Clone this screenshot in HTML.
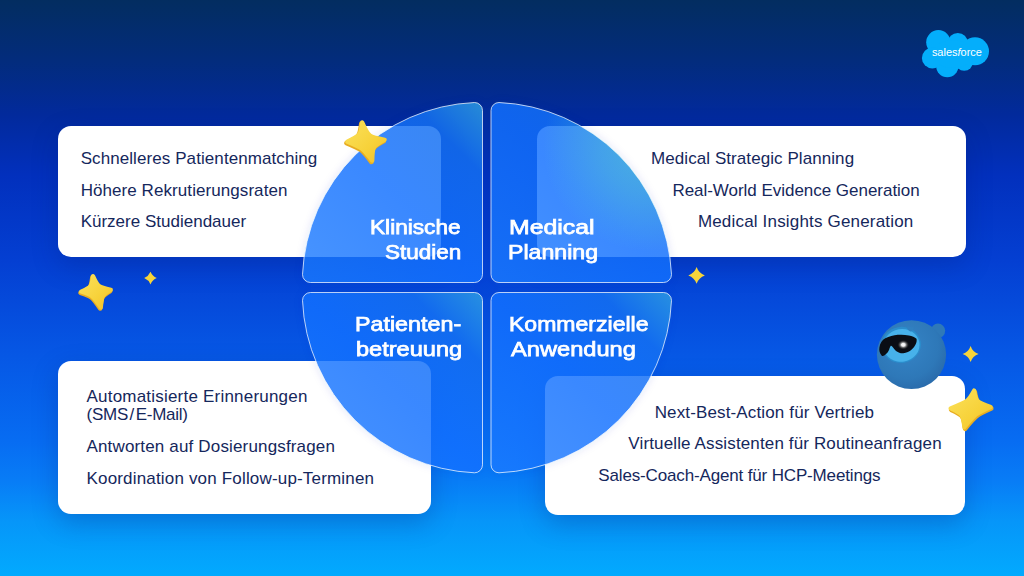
<!DOCTYPE html>
<html><head><meta charset="utf-8">
<style>
html,body{margin:0;padding:0;}
body{width:1024px;height:576px;overflow:hidden;position:relative;font-family:"Liberation Sans",sans-serif;
background:linear-gradient(180deg,#032d60 0px,#032c7c 60px,#022a9c 115px,#0230bd 175px,#043fd2 260px,#0656e4 350px,#076cf2 440px,#087cf6 480px,#0696f9 522px,#02aafe 576px);}
.card{position:absolute;background:#fff;border-radius:13px;box-shadow:0 9px 26px rgba(3,30,120,0.26);}
.t{position:absolute;white-space:nowrap;color:#15275c;font-size:17px;line-height:20px;height:20px;}
.h{position:absolute;white-space:nowrap;color:#fff;font-size:20.3px;line-height:26px;height:26px;-webkit-text-stroke:0.75px #fff;transform-origin:0 0;}
svg{position:absolute;left:0;top:0;}
</style></head><body>
<div class="card" style="left:58px;top:126px;width:383px;height:131px;"></div>
<div class="card" style="left:537px;top:126px;width:429px;height:131px;"></div>
<div class="card" style="left:58px;top:361px;width:373px;height:153px;"></div>
<div class="card" style="left:545px;top:375.5px;width:420px;height:139px;"></div>

<div class="t" style="left:80.65px;top:148.75px;letter-spacing:0.083px;">Schnelleres Patientenmatching</div>
<div class="t" style="left:80.65px;top:180.75px;letter-spacing:0.072px;">Höhere Rekrutierungsraten</div>
<div class="t" style="left:80.65px;top:211.75px;letter-spacing:0.006px;">Kürzere Studiendauer</div>
<div class="t" style="left:651.00px;top:148.75px;letter-spacing:0.073px;">Medical Strategic Planning</div>
<div class="t" style="left:672.40px;top:180.75px;letter-spacing:-0.031px;">Real-World Evidence Generation</div>
<div class="t" style="left:697.90px;top:211.75px;letter-spacing:0.179px;">Medical Insights Generation</div>
<div class="t" style="left:86.50px;top:386.75px;letter-spacing:0.209px;">Automatisierte Erinnerungen</div>
<div class="t" style="left:86.50px;top:404.75px;letter-spacing:-0.251px;">(SMS<span style="margin:0 1.6px">/</span>E-Mail)</div>
<div class="t" style="left:86.50px;top:436.75px;letter-spacing:0.158px;">Antworten auf Dosierungsfragen</div>
<div class="t" style="left:86.50px;top:468.75px;letter-spacing:0.174px;">Koordination von Follow-up-Terminen</div>
<div class="t" style="left:654.70px;top:402.75px;letter-spacing:0.139px;">Next-Best-Action für Vertrieb</div>
<div class="t" style="left:628.30px;top:433.75px;letter-spacing:0.138px;">Virtuelle Assistenten für Routineanfragen</div>
<div class="t" style="left:598.30px;top:465.75px;letter-spacing:-0.153px;">Sales-Coach-Agent für HCP-Meetings</div>
<svg width="1024" height="576" viewBox="0 0 1024 576"><defs>
<linearGradient id="qg" x1="0" y1="1" x2="1" y2="0"><stop offset="0" stop-color="#1a7aff" stop-opacity="0.80"/><stop offset="0.5" stop-color="#1270ff" stop-opacity="0.83"/><stop offset="0.8" stop-color="#1470f2" stop-opacity="0.84"/><stop offset="1" stop-color="#2e9ee2" stop-opacity="0.84"/></linearGradient>
<radialGradient id="cy" gradientUnits="userSpaceOnUse" cx="648" cy="146" r="105"><stop offset="0" stop-color="#5adcc8" stop-opacity="0.5"/><stop offset="0.45" stop-color="#5adcc8" stop-opacity="0.30"/><stop offset="1" stop-color="#5adcc8" stop-opacity="0"/></radialGradient>
<filter id="sh" x="-10%" y="-10%" width="120%" height="120%"><feGaussianBlur stdDeviation="4"/></filter>
<mask id="outq" maskUnits="userSpaceOnUse" x="0" y="0" width="1024" height="576"><rect width="1024" height="576" fill="#fff"/><path d="M310.5,282.5 L474.5,282.5 A8,8 0 0 0 482.5,274.5 L482.5,110.5 A8,8 0 0 0 474.5,102.5 A180.0,180.0 0 0 0 302.5,274.5 A8,8 0 0 0 310.5,282.5Z" fill="#000"/><path d="M663.5,282.5 L499,282.5 A8,8 0 0 1 491,274.5 L491,110.5 A8,8 0 0 1 499,102.5 A180.5,180.5 0 0 1 671.5,274.5 A8,8 0 0 1 663.5,282.5Z" fill="#000"/><path d="M310.5,292.5 L474.5,292.5 A8,8 0 0 1 482.5,300.5 L482.5,464.8 A8,8 0 0 1 474.5,472.8 A180.0,180.0 0 0 1 302.5,300.5 A8,8 0 0 1 310.5,292.5Z" fill="#000"/><path d="M663.5,292.5 L499,292.5 A8,8 0 0 0 491,300.5 L491,464.8 A8,8 0 0 0 499,472.8 A180.5,180.5 0 0 0 671.5,300.5 A8,8 0 0 0 663.5,292.5Z" fill="#000"/></mask>
</defs>
<g mask="url(#outq)"><g filter="url(#sh)" fill="#0a3cc8" fill-opacity="0.13"><path d="M310.5,282.5 L474.5,282.5 A8,8 0 0 0 482.5,274.5 L482.5,110.5 A8,8 0 0 0 474.5,102.5 A180.0,180.0 0 0 0 302.5,274.5 A8,8 0 0 0 310.5,282.5Z"/><path d="M663.5,282.5 L499,282.5 A8,8 0 0 1 491,274.5 L491,110.5 A8,8 0 0 1 499,102.5 A180.5,180.5 0 0 1 671.5,274.5 A8,8 0 0 1 663.5,282.5Z"/><path d="M310.5,292.5 L474.5,292.5 A8,8 0 0 1 482.5,300.5 L482.5,464.8 A8,8 0 0 1 474.5,472.8 A180.0,180.0 0 0 1 302.5,300.5 A8,8 0 0 1 310.5,292.5Z"/><path d="M663.5,292.5 L499,292.5 A8,8 0 0 0 491,300.5 L491,464.8 A8,8 0 0 0 499,472.8 A180.5,180.5 0 0 0 671.5,300.5 A8,8 0 0 0 663.5,292.5Z"/></g></g>
<path d="M310.5,282.5 L474.5,282.5 A8,8 0 0 0 482.5,274.5 L482.5,110.5 A8,8 0 0 0 474.5,102.5 A180.0,180.0 0 0 0 302.5,274.5 A8,8 0 0 0 310.5,282.5Z" fill="url(#qg)" stroke="#fff" stroke-opacity="0.72" stroke-width="1"/>
<path d="M663.5,282.5 L499,282.5 A8,8 0 0 1 491,274.5 L491,110.5 A8,8 0 0 1 499,102.5 A180.5,180.5 0 0 1 671.5,274.5 A8,8 0 0 1 663.5,282.5Z" fill="url(#qg)" stroke="#fff" stroke-opacity="0.72" stroke-width="1"/>
<path d="M310.5,292.5 L474.5,292.5 A8,8 0 0 1 482.5,300.5 L482.5,464.8 A8,8 0 0 1 474.5,472.8 A180.0,180.0 0 0 1 302.5,300.5 A8,8 0 0 1 310.5,292.5Z" fill="url(#qg)" stroke="#fff" stroke-opacity="0.72" stroke-width="1"/>
<path d="M663.5,292.5 L499,292.5 A8,8 0 0 0 491,300.5 L491,464.8 A8,8 0 0 0 499,472.8 A180.5,180.5 0 0 0 671.5,300.5 A8,8 0 0 0 663.5,292.5Z" fill="url(#qg)" stroke="#fff" stroke-opacity="0.72" stroke-width="1"/>
<path d="M663.5,282.5 L499,282.5 A8,8 0 0 1 491,274.5 L491,110.5 A8,8 0 0 1 499,102.5 A180.5,180.5 0 0 1 671.5,274.5 A8,8 0 0 1 663.5,282.5Z" fill="url(#cy)"/>
</svg>
<div class="h" style="left:369.95px;top:214.07px;transform:scaleX(1.1163);">Klinische</div>
<div class="h" style="left:385.00px;top:239.17px;transform:scaleX(1.1098);">Studien</div>
<div class="h" style="left:509.12px;top:214.07px;transform:scaleX(1.2242);">Medical</div>
<div class="h" style="left:508.39px;top:239.17px;transform:scaleX(1.1414);">Planning</div>
<div class="h" style="left:355.15px;top:311.07px;transform:scaleX(1.1480);">Patienten-</div>
<div class="h" style="left:355.66px;top:336.07px;transform:scaleX(1.1619);">betreuung</div>
<div class="h" style="left:509.16px;top:311.07px;transform:scaleX(1.1358);">Kommerzielle</div>
<div class="h" style="left:511.20px;top:336.07px;transform:scaleX(1.1655);">Anwendung</div>
<svg width="1024" height="576" viewBox="0 0 1024 576">
<defs>
<linearGradient id="sg" x1="0" y1="0" x2="1" y2="1"><stop offset="0" stop-color="#fbe05a"/><stop offset="0.6" stop-color="#f7d23a"/><stop offset="1" stop-color="#f2c02c"/></linearGradient>
<radialGradient id="ball" cx="0.42" cy="0.38" r="0.72"><stop offset="0" stop-color="#3584c6"/><stop offset="0.65" stop-color="#2e78b8"/><stop offset="1" stop-color="#2866a6"/></radialGradient>
<radialGradient id="glint" cx="0.5" cy="0.5" r="0.5"><stop offset="0" stop-color="#fff"/><stop offset="0.3" stop-color="#f0f0f0"/><stop offset="0.6" stop-color="#777" stop-opacity="0.7"/><stop offset="1" stop-color="#111" stop-opacity="0"/></radialGradient>
</defs>
<path d="M362.0,122.6 C368.5,137.2 368.5,137.2 384.5,140.0 C372.3,146.8 372.3,146.8 372.1,161.0 C362.4,148.2 362.4,148.2 347.1,142.0 C360.4,135.5 360.4,135.5 362.0,122.6Z" transform="translate(-0.7,1.0)" fill="#e8ad22" stroke="#e8ad22" stroke-width="4.6" stroke-linejoin="round"/>
<path d="M362.0,122.6 C368.5,137.2 368.5,137.2 384.5,140.0 C372.3,146.8 372.3,146.8 372.1,161.0 C362.4,148.2 362.4,148.2 347.1,142.0 C360.4,135.5 360.4,135.5 362.0,122.6Z" transform="translate(0.21,-0.3)" fill="url(#sg)" stroke="url(#sg)" stroke-width="4.2" stroke-linejoin="round"/>
<path d="M92.9,276.4 C97.9,287.3 97.9,287.3 110.7,290.1 C101.9,295.5 101.9,295.5 100.7,307.6 C92.7,295.8 92.7,295.8 81.0,291.9 C91.6,286.9 91.6,286.9 92.9,276.4Z" transform="translate(-0.5,0.9)" fill="#e8ad22" stroke="#e8ad22" stroke-width="4.6" stroke-linejoin="round"/>
<path d="M92.9,276.4 C97.9,287.3 97.9,287.3 110.7,290.1 C101.9,295.5 101.9,295.5 100.7,307.6 C92.7,295.8 92.7,295.8 81.0,291.9 C91.6,286.9 91.6,286.9 92.9,276.4Z" transform="translate(0.15,-0.27)" fill="url(#sg)" stroke="url(#sg)" stroke-width="4.2" stroke-linejoin="round"/>
<path d="M974.3,390.9 C976.2,402.1 976.2,402.1 990.8,407.4 C975.5,414.2 975.5,414.2 964.6,427.6 C962.9,414.3 962.9,414.3 950.7,408.7 C968.3,401.9 968.3,401.9 974.3,390.9Z" transform="translate(0.5,1.1)" fill="#e8ad22" stroke="#e8ad22" stroke-width="4.6" stroke-linejoin="round"/>
<path d="M974.3,390.9 C976.2,402.1 976.2,402.1 990.8,407.4 C975.5,414.2 975.5,414.2 964.6,427.6 C962.9,414.3 962.9,414.3 950.7,408.7 C968.3,401.9 968.3,401.9 974.3,390.9Z" transform="translate(-0.15,-0.33)" fill="url(#sg)" stroke="url(#sg)" stroke-width="4.2" stroke-linejoin="round"/>
<path d="M150.5,271.8 Q152.4,276.2 156.8,278.1 Q152.4,280.0 150.5,284.4 Q148.6,280.0 144.2,278.1 Q148.6,276.2 150.5,271.8Z" fill="#f6d43a"/>
<path d="M696.6,267.1 Q698.7,273.3 704.9,275.4 Q698.7,277.5 696.6,283.7 Q694.5,277.5 688.3,275.4 Q694.5,273.3 696.6,267.1Z" fill="#f6d43a"/>
<path d="M970.6,345.9 Q972.6,351.9 978.6,353.9 Q972.6,355.9 970.6,361.9 Q968.6,355.9 962.6,353.9 Q968.6,351.9 970.6,345.9Z" fill="#f6d43a"/>
<g fill="#04aefb">
<circle cx="938.4" cy="42.3" r="12.2"/><circle cx="957.8" cy="42.9" r="10"/><circle cx="975" cy="51.3" r="14"/>
<circle cx="964.2" cy="62" r="8.8"/><circle cx="947.3" cy="66" r="11.2"/><circle cx="932.3" cy="58" r="10.4"/>
<ellipse cx="953" cy="54" rx="20" ry="14"/></g>
<text x="956.9" y="56" font-family="Liberation Sans, sans-serif" font-size="11.6" fill="#fff" text-anchor="middle" textLength="50" lengthAdjust="spacingAndGlyphs">sales<tspan font-style="italic">f</tspan>orce</text>
<g>
<circle cx="938" cy="330.8" r="7.2" fill="#2f79b8"/>
<ellipse cx="911.5" cy="354.6" rx="34.6" ry="34.4" fill="url(#ball)"/>
<ellipse cx="901.2" cy="344.9" rx="19.8" ry="18" transform="rotate(-10 901.2 344.9)" fill="#2b8dcc"/>
<ellipse cx="901.5" cy="345.4" rx="18.1" ry="16.4" transform="rotate(-10 901.5 345.4)" fill="#47b1ea"/>
<path d="M906.2,326.2 C907.5,329.5 909,331.2 910.4,331.4 C912,331.2 913.2,329.8 914.4,327.4 Z" fill="#3080c0"/>
<path d="M881.8,355.7 C879.6,353 878.9,350.5 879.4,347.5 C880,343.5 882,340 885.3,338.3 C889,336.3 893.5,335.2 897.8,334.8 C901.5,334.5 905.5,334.7 908.9,335.5 C912,336.2 915,337.2 916.5,338.7 C916.9,340.5 916.6,342.3 915.8,343.9 C914.8,346 913.5,347.9 911.7,349.4 C909.4,351.4 906.5,352.9 903.3,353.2 C900.8,353.4 898.3,352.6 896.4,351.2 C894.8,350 893.6,348 892.2,346.4 C891.7,345.8 891.1,345.5 890.6,345.9 C889.8,347.2 889.4,349.2 888.6,350.8 C887.6,352.8 886.2,354.2 884.6,355.2 C883.6,355.8 882.5,356.2 881.8,355.7Z" fill="#0a0d14"/>
<ellipse cx="903.3" cy="344.8" rx="6" ry="5" fill="url(#glint)"/>
</g>
</svg>
</body></html>
